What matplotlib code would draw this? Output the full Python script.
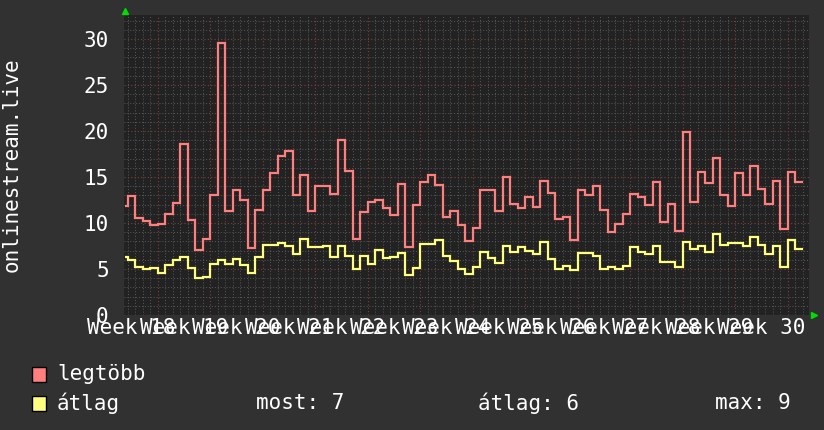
import numpy as np
import matplotlib
matplotlib.use("Agg")
import matplotlib.pyplot as plt
from matplotlib.patches import Rectangle

plt.rcParams['font.family'] = ['DejaVu Sans Mono']

# ---- data (one value per day; first day is partial) ----
first_edge = -4.3          # start of first (partial) day, in days from first week line
max_vals = [11.8, 12.9, 10.5, 10.2, 9.8, 9.9, 11.0, 12.2, 18.6, 10.3, 7.1, 8.3, 13.0, 29.6, 11.3,
            13.55, 12.5, 7.3, 11.4, 13.55, 15.4, 17.3, 17.8, 13.0, 15.2, 11.3, 14.0, 14.0, 13.1, 19.0,
            15.6, 8.3, 11.2, 12.3, 12.5, 11.6, 10.9, 14.2, 7.4, 11.9, 14.5, 15.25, 14.1, 10.7, 11.3,
            9.75, 8.0, 9.5, 13.6, 13.55, 11.3, 15.0, 12.1, 11.6, 12.8, 11.7, 14.6, 13.3, 10.4, 10.6,
            8.1, 13.55, 13.0, 14.0, 11.45, 9.0, 9.9, 11.0, 13.15, 12.8, 11.9, 14.5, 10.1, 12.1, 9.1,
            19.85, 12.25, 15.55, 14.3, 17.1, 13.0, 11.8, 15.4, 13.0, 16.2, 13.7, 12.1, 14.6, 9.3, 15.5,
            14.5]
avg_vals = [6.3, 6.0, 5.2, 5.0, 5.1, 4.6, 5.4, 6.0, 6.3, 5.1, 4.0, 4.1, 5.5, 6.0, 5.5,
            6.1, 5.4, 4.6, 6.3, 7.6, 7.6, 7.8, 7.5, 6.6, 8.3, 7.4, 7.4, 7.5, 6.3, 7.5,
            6.4, 5.0, 6.45, 5.55, 7.1, 6.2, 6.3, 6.7, 4.3, 5.1, 7.75, 7.75, 8.1, 6.4, 5.9,
            5.0, 4.5, 5.2, 6.8, 6.2, 5.6, 7.5, 6.8, 7.4, 7.0, 6.6, 7.9, 6.1, 5.0, 5.3,
            4.9, 6.75, 6.75, 6.4, 5.0, 5.2, 5.0, 5.3, 7.4, 6.9, 6.6, 7.5, 5.8, 5.8, 5.2,
            7.9, 7.2, 7.5, 6.85, 8.85, 7.6, 7.8, 7.8, 7.5, 8.5, 7.6, 6.6, 7.5, 5.2, 8.1,
            7.2]
week_labels = ["Week 18", "Week 19", "Week 20", "Week 21", "Week 22", "Week 23", "Week 24",
               "Week 25", "Week 26", "Week 27", "Week 28", "Week 29", "Week 30"]
y_ticks = [0, 5, 10, 15, 20, 25, 30]
series_names = ["legtöbb", "átlag"]
stats_text = ["most: 7", "átlag: 6", "max: 9"]

RED = '#FF7F7F'
YEL = '#FFFF7F'
BG = '#313131'
CANVAS = '#222222'

W, H = 824, 430
fig = plt.figure(figsize=(W / 100, H / 100), dpi=100, facecolor=BG)
L, R, T, B = 124, 809, 15, 315
ax = fig.add_axes([L / W, 1 - B / H, (R - L) / W, (B - T) / H])
ax.set_facecolor(CANVAS)

day0_px, day_px = 157.5, 7.5
ax.set_xlim((L - day0_px) / day_px, (R - day0_px) / day_px)
ax.set_ylim(0, 32.6)

n = len(max_vals)
edges = np.concatenate([[first_edge], np.arange(-4, -4 + n)])

# grid
ax.set_xticks(np.arange(0, 85, 7))
ax.set_xticks(np.arange(-4, 87), minor=True)
ax.set_yticks(y_ticks)
ax.set_yticks(np.arange(0, 33, 1), minor=True)
ax.grid(which='minor', color='#5a5a5a', linestyle=(0, (1, 2)), linewidth=0.7)
ax.grid(which='major', color='#7a4040', linestyle=(0, (1, 2)), linewidth=0.8)
ax.set_axisbelow(True)
for s in ax.spines.values():
    s.set_visible(False)
ax.tick_params(which='both', length=0)
ax.set_xticklabels([])
ax.set_yticklabels([str(v) for v in y_ticks], color='white', fontsize=15)
ax.tick_params(axis='y', pad=11)

ax.stairs(max_vals, edges, color=RED, linewidth=1.6, baseline=None)
ax.stairs(avg_vals, edges, color=YEL, linewidth=1.6, baseline=None)

# week labels centered in each week span
tr = ax.get_xaxis_transform()
for i, lbl in enumerate(week_labels):
    ax.text(-3.5 + 7 * i, -0.045, lbl, transform=tr, ha='center', va='center',
            color='white', fontsize=15, clip_on=False)

# y label
fig.text(12 / W, 1 - 165 / H, "onlinestream.live", rotation=90, ha='center', va='center',
         color='white', fontsize=15)

# green arrows
fig.add_artist(plt.Line2D([125 / W], [1 - 11 / H], marker='^', markersize=4.5,
                          color='#00DD00', linestyle='none', transform=fig.transFigure))
fig.add_artist(plt.Line2D([813.5 / W], [1 - 315 / H], marker='>', markersize=4.5,
                          color='#00DD00', linestyle='none', transform=fig.transFigure))

# legend
rows_y = [374, 403]
for name, col, yy in zip(series_names, [RED, YEL], rows_y):
    fig.add_artist(Rectangle((32 / W, 1 - (yy + 7.5) / H), 14 / W, 15 / H, facecolor=col,
                             edgecolor='black', linewidth=1, transform=fig.transFigure))
    fig.text(57 / W, 1 - yy / H, name, ha='left', va='center', color='white', fontsize=15)
for txt, xx in zip(stats_text, [256, 478, 715]):
    fig.text(xx / W, 1 - 403 / H, txt, ha='left', va='center', color='white', fontsize=15)

fig.savefig("out.png", dpi=100, facecolor=BG)
